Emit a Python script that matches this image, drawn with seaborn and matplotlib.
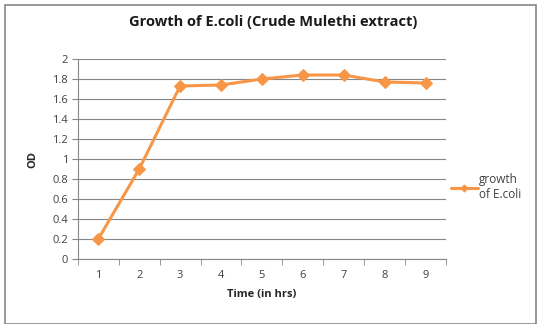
import pandas as pd
import seaborn as sns
import matplotlib.pyplot as plt
from matplotlib.patches import Rectangle

sns.set_style('white')
plt.rcParams['font.family'] = ['Open Sans', 'DejaVu Sans']

hours = [1, 2, 3, 4, 5, 6, 7, 8, 9]
od = [0.2, 0.9, 1.73, 1.74, 1.80, 1.84, 1.84, 1.77, 1.76]
y_ticks = [0, 0.2, 0.4, 0.6, 0.8, 1, 1.2, 1.4, 1.6, 1.8, 2]

df = pd.DataFrame({'Time': hours, 'OD': od})
orange = '#f79646'

fig = plt.figure(figsize=(5.37, 3.24), dpi=100)
ax = fig.add_axes([0.145, 0.2006, 0.6855, 0.6173])

sns.lineplot(data=df, x='Time', y='OD', ax=ax, color=orange, linewidth=2.2,
             marker='D', markersize=6, markeredgecolor=orange, label='growth\nof E.coli')

ax.set_xlim(0.5, 9.5)
ax.set_ylim(0, 2)
ax.set_yticks(y_ticks)
ax.set_yticklabels([('%g' % v) for v in y_ticks], fontsize=8, color='#404040')
ax.set_xticks(hours)
ax.set_xticklabels([str(h) for h in hours], fontsize=8, color='#404040')
ax.set_xticks([h - 0.5 for h in hours] + [9.5], minor=True)
ax.tick_params(axis='x', which='major', length=0, pad=8)
ax.tick_params(axis='x', which='minor', length=4, color='#868686', direction='out', bottom=True)
ax.tick_params(axis='y', length=4, color='#868686', direction='out', left=True, pad=3)
ax.grid(axis='y', color='#868686', linewidth=0.8)
ax.set_axisbelow(True)
for side in ['top', 'right']:
    ax.spines[side].set_visible(False)
ax.spines['left'].set_color('#868686')
ax.spines['bottom'].set_color('#868686')

ax.set_xlabel('Time (in hrs)', fontsize=8, fontweight='bold', labelpad=6)
ax.set_ylabel('OD', fontsize=8, fontweight='bold', labelpad=10)
fig.suptitle('Growth of E.coli (Crude Mulethi extract)', x=0.508, y=0.955,
             fontsize=10.5, fontweight='bold', color='#1a1a1a')

ax.legend(loc='center left', bbox_to_anchor=(0.99, 0.36), frameon=False,
          fontsize=8.5, handlelength=2.3, handletextpad=0.1, borderaxespad=0.3,
          markerscale=0.6, labelspacing=0.2, labelcolor='#404040')

fig.patches.append(Rectangle((0.009, 0.0), 0.99, 0.985, transform=fig.transFigure,
                             fill=False, edgecolor='#868686', linewidth=1.2))

fig.savefig('out.png', dpi=100)
